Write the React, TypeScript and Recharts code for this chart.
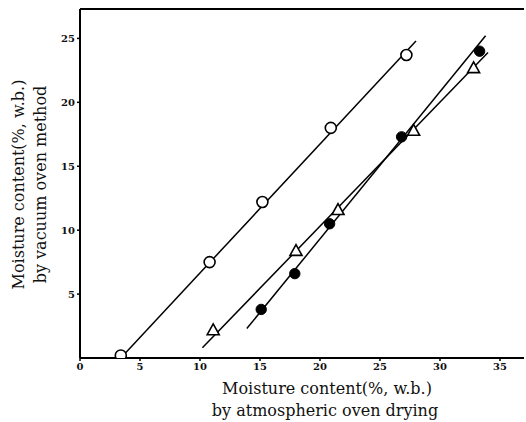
import React from 'react';
import { ComposedChart, Scatter, XAxis, YAxis, ReferenceLine } from 'recharts';

const xTicks = [0, 5, 10, 15, 20, 25, 30, 35];
const yTicks = [5, 10, 15, 20, 25];

const openX = [3.4, 10.8, 15.2, 20.9, 27.2];
const openY = [0.2, 7.5, 12.2, 18.0, 23.7];
const triX = [11.1, 18.0, 21.5, 27.8, 32.8];
const triY = [2.2, 8.4, 11.6, 17.8, 22.7];
const fillX = [15.1, 17.9, 20.8, 26.8, 33.3];
const fillY = [3.8, 6.6, 10.5, 17.3, 24.0];

const openLineX = [3.4, 28.0];
const openLineY = [0.0, 24.8];
const triLineX = [10.2, 34.0];
const triLineY = [0.8, 23.9];
const fillLineX = [13.9, 33.8];
const fillLineY = [2.3, 25.2];

const zip = (xs: number[], ys: number[]) => xs.map((x, i) => ({ x, y: ys[i] }));

const openData = zip(openX, openY);
const triData = zip(triX, triY);
const fillData = zip(fillX, fillY);
const openLine = zip(openLineX, openLineY);
const triLine = zip(triLineX, triLineY);
const fillLine = zip(fillLineX, fillLineY);

const FONT = '"DejaVu Serif", "Liberation Serif", serif';

const OpenCircle = (p: any) => (
  <circle cx={p.cx} cy={p.cy} r={5.5} fill="#fff" stroke="#000" strokeWidth={1.6} />
);
const FilledCircle = (p: any) => (
  <circle cx={p.cx} cy={p.cy} r={5.2} fill="#000" stroke="#000" strokeWidth={1} />
);
const Triangle = (p: any) => {
  const { cx, cy } = p;
  const s = 6;
  const pts = `${cx},${cy - s} ${cx - s},${cy + s * 0.8} ${cx + s},${cy + s * 0.8}`;
  return <polygon points={pts} fill="#fff" stroke="#000" strokeWidth={1.6} />;
};
const NoShape = () => <g />;

const XLabel = (props: any) => {
  const vb = props.viewBox;
  const cx = vb.x + vb.width / 2 + 25;
  return (
    <g>
      <text x={cx} y={vb.y + 36} textAnchor="middle" fontFamily={FONT} fontSize={16} fill="#111">
        Moisture content(%, w.b.)
      </text>
      <text x={cx - 2} y={vb.y + 58} textAnchor="middle" fontFamily={FONT} fontSize={16} fill="#111">
        by atmospheric oven drying
      </text>
    </g>
  );
};

const YLabel = (props: any) => {
  const vb = props.viewBox;
  const cy = vb.y + vb.height / 2 + 1;
  return (
    <g>
      <text x={18} y={cy} transform={`rotate(-90 18 ${cy})`} textAnchor="middle" dominantBaseline="central" fontFamily={FONT} fontSize={16} fill="#111">
        Moisture content(%, w.b.)
      </text>
      <text x={40} y={cy} transform={`rotate(-90 40 ${cy})`} textAnchor="middle" dominantBaseline="central" fontFamily={FONT} fontSize={16} fill="#111">
        by vacuum oven method
      </text>
    </g>
  );
};

export default function App() {
  return (
    <div style={{ position: 'absolute', left: 0, top: 0, background: '#fff' }}>
      <ComposedChart width={526} height={422} margin={{ top: 9, right: 2, left: 0, bottom: 0 }}>
        <XAxis
          type="number"
          dataKey="x"
          domain={[0, 37]}
          ticks={xTicks}
          allowDataOverflow
          height={64}
          axisLine={{ stroke: '#000', strokeWidth: 2 }}
          tickLine={{ stroke: '#000', strokeWidth: 1.5 }}
          tickSize={3}
          tick={{ fontFamily: FONT, fontSize: 10, fontWeight: 'bold', fill: '#111' }}
          tickFormatter={(v: number) => String(v)}
          label={{ content: XLabel }}
        />
        <YAxis
          type="number"
          dataKey="y"
          domain={[0, 27.3]}
          ticks={yTicks}
          allowDataOverflow
          width={80}
          axisLine={{ stroke: '#000', strokeWidth: 2 }}
          tickLine={{ stroke: '#000', strokeWidth: 1.5 }}
          tickSize={3}
          tick={{ fontFamily: FONT, fontSize: 10, fontWeight: 'bold', fill: '#111' }}
          label={{ content: YLabel }}
        />
        <ReferenceLine y={27.3} stroke="#000" strokeWidth={2} />
        <Scatter data={openLine} line={{ stroke: '#000', strokeWidth: 1.5 }} shape={NoShape} isAnimationActive={false} />
        <Scatter data={triLine} line={{ stroke: '#000', strokeWidth: 1.5 }} shape={NoShape} isAnimationActive={false} />
        <Scatter data={fillLine} line={{ stroke: '#000', strokeWidth: 1.5 }} shape={NoShape} isAnimationActive={false} />
        <Scatter data={openData} shape={OpenCircle} isAnimationActive={false} />
        <Scatter data={triData} shape={Triangle} isAnimationActive={false} />
        <Scatter data={fillData} shape={FilledCircle} isAnimationActive={false} />
      </ComposedChart>
    </div>
  );
}
